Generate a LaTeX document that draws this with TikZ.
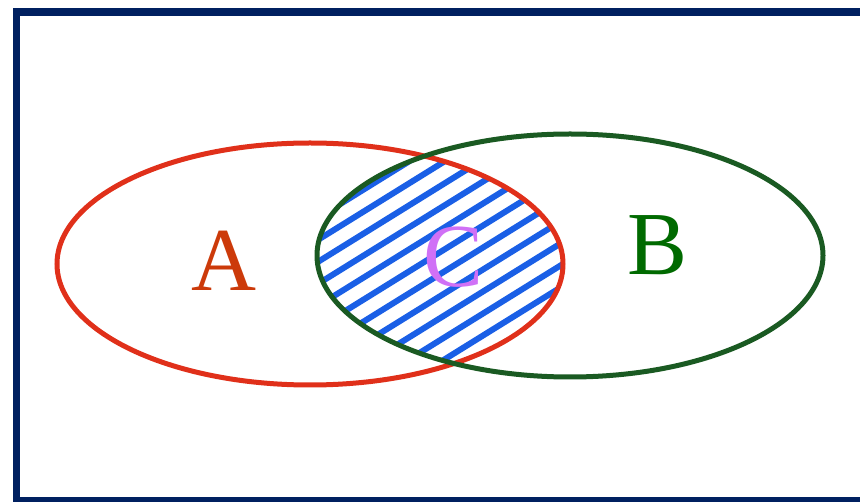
\documentclass[tikz,border=0pt]{standalone}
\usepackage{fontspec}
\setmainfont{Liberation Serif}
\definecolor{navy}{HTML}{002060}
\definecolor{redA}{HTML}{E0301A}
\definecolor{greenB}{HTML}{1A5A22}
\definecolor{stripeblue}{HTML}{1A5FE6}
\definecolor{txtA}{HTML}{CC3A0A}
\definecolor{txtB}{HTML}{006A00}
\definecolor{txtC}{HTML}{D070F6}

\begin{document}
\begin{tikzpicture}[x=1pt, y=-1pt,
  frame/.style={draw=navy, line width=7.5pt},
  setA/.style={draw=redA, line width=5pt},
  setB/.style={draw=greenB, line width=5pt},
  hatch/.style={draw=stripeblue, line width=6pt},
  letter/.style={font=\fontsize{90}{90}\selectfont, inner sep=0pt}
]
\useasboundingbox (0,0) rectangle (860,502);
\draw[frame] (16.5,12) rectangle (880,501);

% hatched overlap C
\begin{scope}
  \clip (310,264) ellipse [x radius=253, y radius=121];
  \clip (570,255.5) ellipse [x radius=253, y radius=121.5];
  \foreach \k in {-5,...,14} {
    \pgfmathsetmacro{\c}{437+22*\k}
    \draw[hatch] (290,{\c-0.62*290}) -- (590,{\c-0.62*590});
  }
\end{scope}

\draw[setA] (310,264) ellipse [x radius=253, y radius=121];
\draw[setB] (570,255.5) ellipse [x radius=253, y radius=121.5];

\node[letter, text=txtA] (lblA) at (224,261) {A};
\node[letter, text=txtB] (lblB) at (658,245) {B};
\node[letter, text=txtC] (lblC) at (454,257) {C};
\end{tikzpicture}
\end{document}
